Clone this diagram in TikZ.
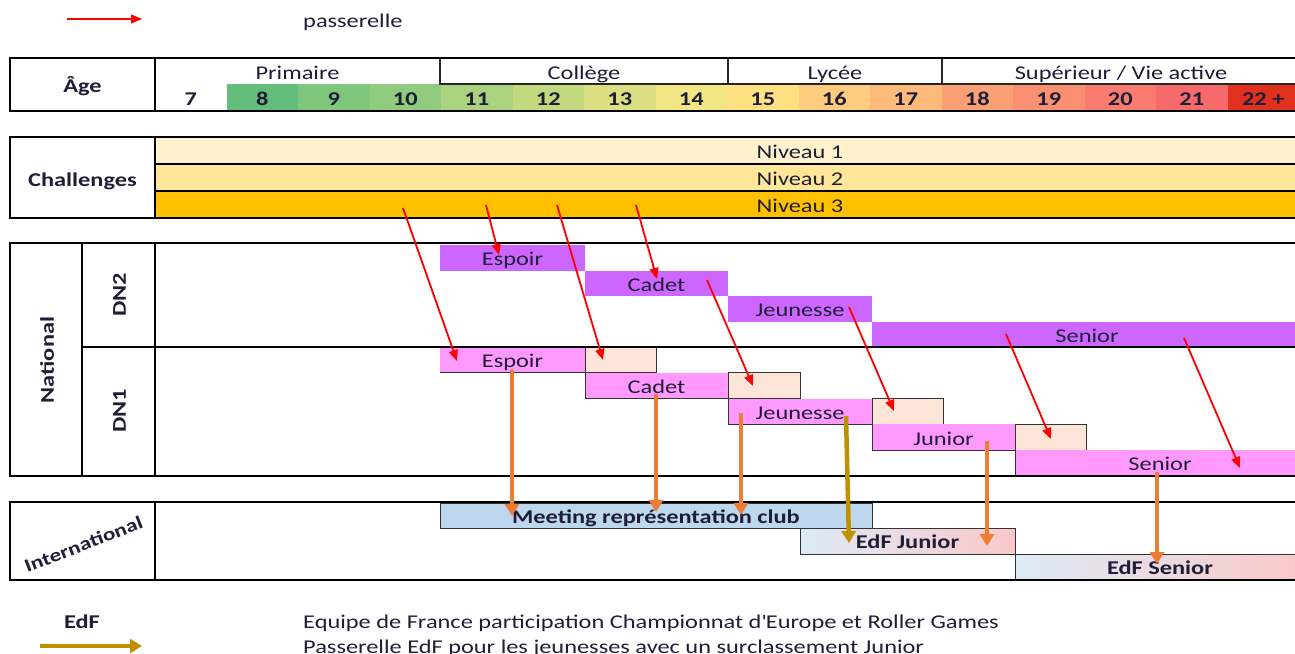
\documentclass[tikz,border=0pt]{standalone}
\usepackage{fontspec}
\setmainfont{Carlito}[FakeStretch=1.25]
\usetikzlibrary{arrows.meta}

\definecolor{ink}{RGB}{30,30,55}
\definecolor{nivone}{RGB}{255,242,204}
\definecolor{nivtwo}{RGB}{255,230,153}
\definecolor{nivthree}{RGB}{255,192,0}
\definecolor{dntwo}{RGB}{204,102,255}
\definecolor{dnone}{RGB}{255,153,255}
\definecolor{peach}{RGB}{252,228,214}
\definecolor{meeting}{RGB}{189,215,238}
\definecolor{edfleft}{RGB}{221,235,247}
\definecolor{edfright}{RGB}{250,200,200}
\definecolor{passred}{RGB}{255,0,0}
\definecolor{edforange}{RGB}{237,125,49}
\definecolor{edfgold}{RGB}{191,144,0}

\tikzset{
  frame/.style={draw=black, line width=2.2pt},
  rule/.style={draw=black!85, line width=1.2pt},
  cellline/.style={draw=black!80, line width=0.9pt},
  lab/.style={text=ink, text height=0.85em, text depth=0.05em},
  bar/.style={lab, anchor=north west, inner sep=0pt, outer sep=0pt},
  agecell/.style={bar, minimum width=71.5pt, minimum height=27pt, font=\bfseries},
  dnbar/.style={bar, minimum height=25.6pt},
  peachcell/.style={dnbar, fill=peach, cellline},
  edfbox/.style={bar, minimum height=26pt, cellline, font=\bfseries,
    left color=edfleft, right color=edfright},
  passerelle/.style={draw=passred, line width=1.8pt, -{Triangle[length=11pt,width=9pt]}},
  edfarrow/.style={draw=edforange, line width=4.5pt, -{Triangle[length=12pt,width=14pt]}},
  goldarrow/.style={edfarrow, draw=edfgold, fill=edfgold},
}

\begin{document}
\fontsize{19.5}{23}\selectfont
\begin{tikzpicture}[x=1pt, y=-1pt]
\useasboundingbox (0,0) rectangle (1295,653);
\clip (0,0) rectangle (1295,653);

% legende du haut
\coordinate (legA) at (67,19);
\coordinate (legB) at (142,19);
\draw[passerelle, line width=1.4pt] (legA) -- (legB);
\node[lab, anchor=west, inner sep=0pt] (legpass) at (303,20) {passerelle};

% ages
\node[bar, minimum width=145pt, minimum height=53pt, font=\bfseries] (agelabel) at (10,58) {Âge};
\node[agecell] (age0) at (155,84) {7};
\foreach \lab/\vr/\vg/\vb [count=\i] in {8/99/190/123, 9/125/198/124, 10/145/203/125,
    11/170/210/127, 12/195/217/128, 13/220/224/130, 14/242/231/132, 15/255/225/130,
    16/253/204/126, 17/252/187/122, 18/251/160/117, 19/250/143/114, 20/249/124/111,
    21/246/106/108, 22 +/225/48/30}{
  \definecolor{cellcol}{RGB}{\vr,\vg,\vb}
  \node[agecell, fill=cellcol] (age\i) at (155+\i*71.5,84) {\lab};
}
\node[lab] (primaire) at (297.5,72) {Primaire};
\node[lab] (college) at (584,72) {Collège};
\node[lab] (lycee) at (835,72) {Lycée};
\node[lab] (superieur) at (1121,72) {Supérieur / Vie active};
\draw[rule] (440,58) -- (440,84) -- (1310,84);
\draw[rule] (728,58) -- (728,84);
\draw[rule] (942,58) -- (942,84);
\draw[frame] (10,58) rectangle (1310,111);
\draw[frame] (155,58) -- (155,111);

% challenges
\node[bar, fill=nivone, minimum width=1290pt, minimum height=27pt] (nivA) at (155,137) {Niveau 1};
\node[bar, fill=nivtwo, minimum width=1290pt, minimum height=27pt] (nivB) at (155,164) {Niveau 2};
\node[bar, fill=nivthree, minimum width=1290pt, minimum height=27pt] (nivC) at (155,191) {Niveau 3};
\node[lab, font=\bfseries] (challenges) at (82.5,179) {Challenges};
\draw[frame] (10,137) rectangle (1310,218);
\draw[frame] (155,137) -- (155,218);
\draw[frame, line width=2pt] (155,164) -- (1310,164);
\draw[frame, line width=2pt] (155,191) -- (1310,191);

% national DN2
\node[dnbar, fill=dntwo, minimum width=145pt] (dtEspoir) at (440,245) {Espoir};
\node[dnbar, fill=dntwo, minimum width=143pt] (dtCadet) at (585,270.5) {Cadet};
\node[dnbar, fill=dntwo, minimum width=144pt] (dtJeunesse) at (728,296) {Jeunesse};
\node[dnbar, fill=dntwo, minimum width=430pt] (dtSenior) at (872,321.5) {Senior};

% national DN1
\node[dnbar, fill=dnone, minimum width=145pt] (duEspoir) at (440,347) {Espoir};
\node[peachcell, minimum width=71.5pt] (duPeachA) at (585,347) {};
\node[dnbar, fill=dnone, minimum width=143pt] (duCadet) at (585,372.8) {Cadet};
\node[peachcell, minimum width=72pt] (duPeachB) at (728,372.8) {};
\node[dnbar, fill=dnone, minimum width=144pt] (duJeunesse) at (728,398.6) {Jeunesse};
\node[peachcell, minimum width=71pt] (duPeachC) at (872,398.6) {};
\node[dnbar, fill=dnone, minimum width=143pt] (duJunior) at (872,424.4) {Junior};
\node[peachcell, minimum width=71.5pt] (duPeachD) at (1015,424.4) {};
\node[dnbar, fill=dnone, minimum width=290pt] (duSenior) at (1015,450.2) {Senior};
\draw[cellline] (duEspoir.south west) -- (duEspoir.south east);
\foreach \bn in {duCadet, duJeunesse, duJunior, duSenior}
  \draw[cellline] (\bn.north west) |- (\bn.south east);

\node[lab, rotate=90, font=\bfseries] (national) at (46,360) {National};
\node[lab, rotate=90, font=\bfseries] (dntwolab) at (118,295) {DN2};
\node[lab, rotate=90, font=\bfseries] (dnonelab) at (118,411) {DN1};
\draw[frame] (10,243) rectangle (1310,476);
\draw[frame] (82,243) -- (82,476);
\draw[frame] (155,243) -- (155,476);
\draw[frame, line width=1.8pt] (82,347) -- (1310,347);

% international
\node[bar, fill=meeting, cellline, minimum width=432pt, minimum height=25pt, font=\bfseries] (meetclub) at (440,503) {Meeting représentation club};
\node[edfbox, minimum width=215pt] (edfJunior) at (800,528) {EdF Junior};
\node[edfbox, minimum width=290pt] (edfSenior) at (1015,554) {EdF Senior};
\node[lab, rotate=21, font=\bfseries\fontsize{18.5}{22}\selectfont] (intl) at (83,543) {International};
\draw[frame] (10,502) rectangle (1310,580);
\draw[frame] (155,502) -- (155,580);

% passerelles
\foreach \xa/\ya/\xb/\yb [count=\k] in {403/208/457/361, 486/205/499/255, 557/205/603/360,
    636/205/657/279, 707/280/753/386, 849/307/894/411, 1006/334/1051/439, 1184/338/1240/468}{
  \coordinate (ps\k) at (\xa,\ya);
  \coordinate (pe\k) at (\xb,\yb);
  \draw[passerelle] (ps\k) -- (pe\k);
}

% vers international
\foreach \xa/\ya/\yb [count=\k] in {512/370/516, 656/394/512, 741/413/515, 987/441/546, 1157/472/564}{
  \coordinate (os\k) at (\xa,\ya);
  \coordinate (oe\k) at (\xa,\yb);
  \draw[edfarrow] (os\k) -- (oe\k);
}
\coordinate (gs) at (846,416);
\coordinate (ge) at (849,543);
\draw[goldarrow] (gs) -- (ge);

% legende du bas
\node[lab, font=\bfseries] (legedf) at (82,621) {EdF};
\node[lab, anchor=west, inner sep=0pt] (legequipe) at (303,621) {Equipe de France participation Championnat d\textquotesingle Europe et Roller Games};
\coordinate (legC) at (40,646);
\coordinate (legD) at (142,646);
\draw[goldarrow] (legC) -- (legD);
\node[lab, anchor=west, inner sep=0pt] (leggold) at (303,646) {Passerelle EdF pour les jeunesses avec un surclassement Junior};
\end{tikzpicture}
\end{document}
